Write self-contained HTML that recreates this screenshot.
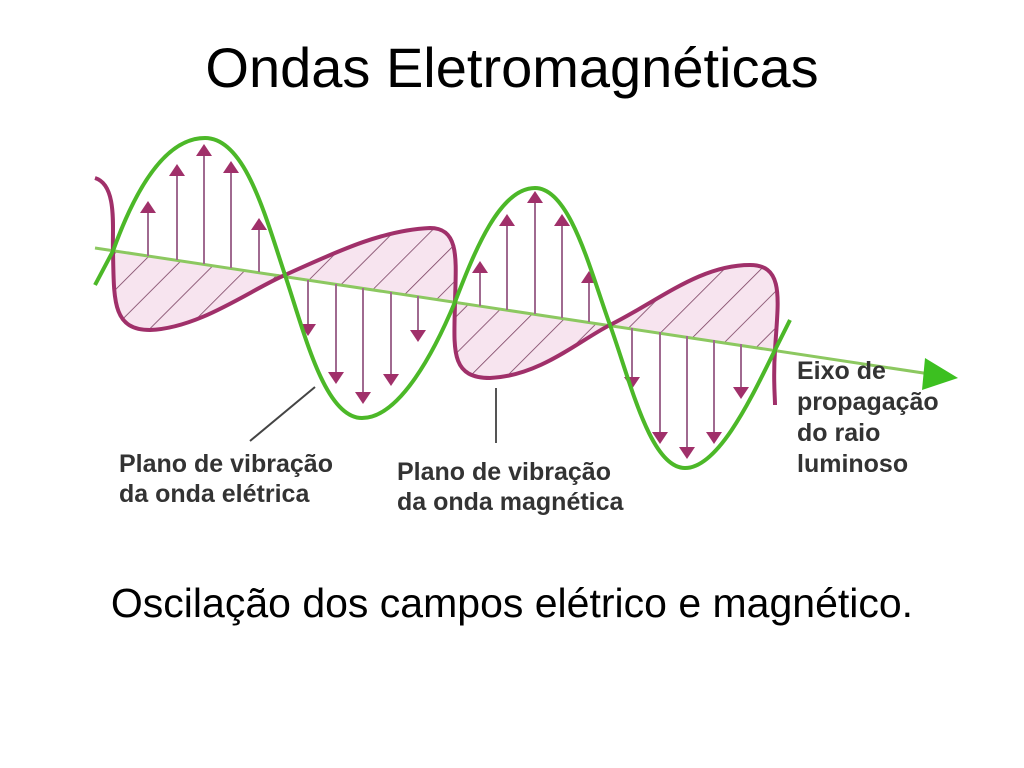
<!DOCTYPE html>
<html><head><meta charset="utf-8"><style>
html,body{margin:0;padding:0;background:#fff;}
body{width:1024px;height:768px;position:relative;overflow:hidden;font-family:"Liberation Sans",sans-serif;}
.t{position:absolute;left:0;width:1024px;text-align:center;font-family:"Liberation Sans",sans-serif;color:#000;}
.l{position:absolute;font-weight:bold;color:#333;font-size:25px;line-height:30px;white-space:nowrap;}
</style></head><body>
<div class="t" style="top:35px;font-size:56px;">Ondas Eletromagnéticas</div>
<div class="t" style="top:580px;font-size:41px;">Oscilação dos campos elétrico e magnético.</div>
<svg width="1024" height="768" style="position:absolute;left:0;top:0">
<defs>
<pattern id="h" width="26" height="26" patternUnits="userSpaceOnUse" patternTransform="rotate(45)">
<rect width="26" height="26" fill="#f7e4ef"/>
<line x1="0" y1="0" x2="0" y2="26" stroke="#7a4060" stroke-width="1.6"/>
</pattern>
<marker id="a" markerWidth="6" markerHeight="8" refX="3" refY="4" orient="auto"><path d="M0,0 L6,4 L0,8z" fill="#a0306a"/></marker>
</defs>
<path d="M113,251 C114,300 112,330 150,330 C200,328 250,290 285,275 Z" fill="url(#h)"/>
<path d="M285,275 C330,255 380,230 430,228 C460,228 456,260 455,302 Z" fill="url(#h)"/>
<path d="M455,302 C454,350 450,378 490,378 C540,376 580,340 610,325 Z" fill="url(#h)"/>
<path d="M610,325 C660,300 700,265 750,265 C785,265 778,300 775,350 Z" fill="url(#h)"/>
<line x1="95" y1="248" x2="930" y2="374" stroke="#8cc860" stroke-width="3"/>
<path d="M925,358 L958,378 L922,390 Z" fill="#3cc020"/>
<g stroke="#a06a90" stroke-width="2" marker-end="url(#a)">
<line x1="148" y1="256" x2="148" y2="207"/><line x1="177" y1="260" x2="177" y2="170"/><line x1="204" y1="264" x2="204" y2="150"/><line x1="231" y1="268" x2="231" y2="167"/><line x1="259" y1="272" x2="259" y2="224"/>
<line x1="308" y1="280" x2="308" y2="330"/><line x1="336" y1="284" x2="336" y2="378"/><line x1="363" y1="288" x2="363" y2="398"/><line x1="391" y1="292" x2="391" y2="380"/><line x1="418" y1="296" x2="418" y2="336"/>
<line x1="480" y1="306" x2="480" y2="267"/><line x1="507" y1="310" x2="507" y2="220"/><line x1="535" y1="314" x2="535" y2="197"/><line x1="562" y1="318" x2="562" y2="220"/><line x1="589" y1="322" x2="589" y2="277"/>
<line x1="632" y1="328" x2="632" y2="383"/><line x1="660" y1="332" x2="660" y2="438"/><line x1="687" y1="336" x2="687" y2="453"/><line x1="714" y1="340" x2="714" y2="438"/><line x1="741" y1="344" x2="741" y2="393"/>
</g>
<path d="M95,178 C118,185 112,230 113,251 C114,300 112,330 150,330 C200,328 250,290 285,275 C330,255 380,230 430,228 C460,228 456,260 455,302 C454,350 450,378 490,378 C540,376 580,340 610,325 C660,300 700,265 750,265 C785,265 778,300 775,350 C773,380 775,395 775,405" fill="none" stroke="#a0306a" stroke-width="4"/>
<path d="M95,285 L113,251 C135,190 165,138 205,138 C245,138 265,215 285,275 C305,335 325,418 362,418 C400,418 435,350 455,302 C475,250 500,188 535,188 C570,188 590,270 610,325 C630,380 650,468 685,468 C720,468 755,390 775,350 L790,320" fill="none" stroke="#4cb828" stroke-width="4"/>
<line x1="250" y1="441" x2="315" y2="387" stroke="#444" stroke-width="2"/>
<line x1="496" y1="388" x2="496" y2="443" stroke="#555" stroke-width="2"/>
</svg>
<div class="l" style="left:119px;top:449px;">Plano de vibração<br>da onda elétrica</div>
<div class="l" style="left:397px;top:457px;">Plano de vibração<br>da onda magnética</div>
<div class="l" style="left:797px;top:356px;font-size:25px;line-height:31px;">Eixo de<br>propagação<br>do raio<br>luminoso</div>
</body></html>
